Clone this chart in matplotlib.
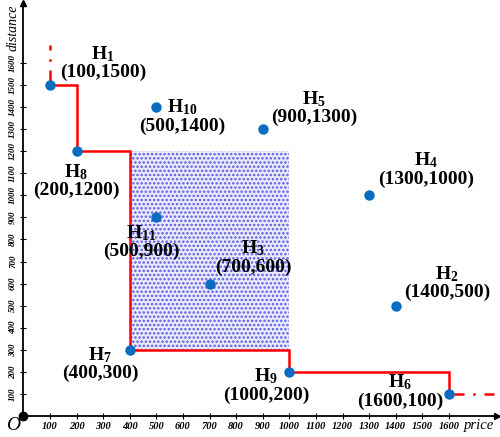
import matplotlib
matplotlib.use("Agg")
import matplotlib.pyplot as plt
from matplotlib.patches import Rectangle

plt.rcParams['font.family'] = ['Liberation Serif', 'DejaVu Serif']
plt.rcParams['mathtext.fontset'] = 'custom'
plt.rcParams['mathtext.rm'] = 'Liberation Serif'
plt.rcParams['mathtext.bf'] = 'Liberation Serif:bold'
plt.rcParams['hatch.linewidth'] = 1.2

# --- data ---
names = ['1', '2', '3', '4', '5', '6', '7', '8', '9', '10', '11']
price = [100, 1400, 700, 1300, 900, 1600, 400, 200, 1000, 500, 500]
dist = [1500, 500, 600, 1000, 1300, 100, 300, 1200, 200, 1400, 900]

# skyline staircase (price, distance)
sky_x = [100, 200, 200, 400, 400, 1000, 1000, 1600, 1600]
sky_y = [1500, 1500, 1200, 1200, 300, 300, 200, 200, 100]

# dominated region
region_x = [400, 1000]
region_y = [300, 1200]

ticks = list(range(100, 1700, 100))

# label placement (centre of the two-line block)
lab_pos = {
    '1': (299, 1600), '2': (1592, 605), '3': (863, 720), '4': (1514, 1119),
    '5': (1092, 1398), '6': (1416, 113), '7': (288, 238), '8': (198, 1067),
    '9': (912, 140), '10': (596, 1359), '11': (442, 790),
}

fig = plt.figure(figsize=(5.0, 4.37), dpi=100)
ax = fig.add_axes([0, 0, 1, 1])
ax.set_xlim(-88, 1792)
ax.set_ylim(-95, 1885)

# shaded area
ax.add_patch(Rectangle((region_x[0], region_y[0]), region_x[1] - region_x[0],
                       region_y[1] - region_y[0], facecolor='#eaeafb',
                       edgecolor='#5c5ce4', hatch='....', lw=0, zorder=1))

# staircase
ax.plot(sky_x, sky_y, color='#ff0000', lw=1.8, zorder=3, solid_joinstyle='miter')
ax.plot([100, 100], [1500, 1680], color='#ff0000', lw=1.8, zorder=2,
        linestyle=(0, (6, 3.5, 1, 3.5, 4, 20)))
ax.plot([1600, 1775], [100, 100], color='#ff0000', lw=1.8, zorder=2,
        linestyle=(0, (6, 3.5, 1, 3.5, 4, 20)))

# points
ax.plot(price, dist, 'o', color='#0a6cc0', ms=7.5, zorder=4, mec='none')

for n, px, py in zip(names, price, dist):
    lx, ly = lab_pos[n]
    ax.text(lx, ly, r'$\mathbf{H_{%s}}$' % n + '\n' + '(%d,%d)' % (px, py),
            ha='center', va='center', fontsize=14, fontweight='bold',
            linespacing=1.0, zorder=5)

# axes
for s in ['top', 'right']:
    ax.spines[s].set_visible(False)
ax.spines['left'].set_position(('data', 0))
ax.spines['bottom'].set_position(('data', 0))
ax.spines['left'].set_bounds(0, 1870)
ax.spines['bottom'].set_bounds(0, 1780)
ax.spines['left'].set_linewidth(1.3)
ax.spines['bottom'].set_linewidth(1.3)
ax.plot(1780, 0, '>k', ms=4, clip_on=False)
ax.plot(0, 1870, '^k', ms=4, clip_on=False)
ax.plot(0, 0, 'ok', ms=6, zorder=6)

ax.set_xticks(ticks)
ax.set_yticks(ticks)
ax.set_xticklabels([str(t) for t in ticks], fontsize=7.5, fontstyle='italic', fontweight='bold')
ax.set_yticklabels([str(t) for t in ticks], fontsize=6.5, fontstyle='italic', fontweight='bold',
                   rotation=90, va='center')
ax.tick_params(direction='inout', length=5, width=0.8, pad=2)

ax.text(-40, 1760, 'distance', rotation=90, fontsize=10, fontstyle='italic',
        ha='center', va='center')
ax.text(1712, -45, 'price', fontsize=10.5, fontstyle='italic', ha='center', va='center')
ax.text(-40, -42, 'O', fontsize=14, fontstyle='italic', ha='center', va='center')

fig.savefig('out.png', dpi=100)
